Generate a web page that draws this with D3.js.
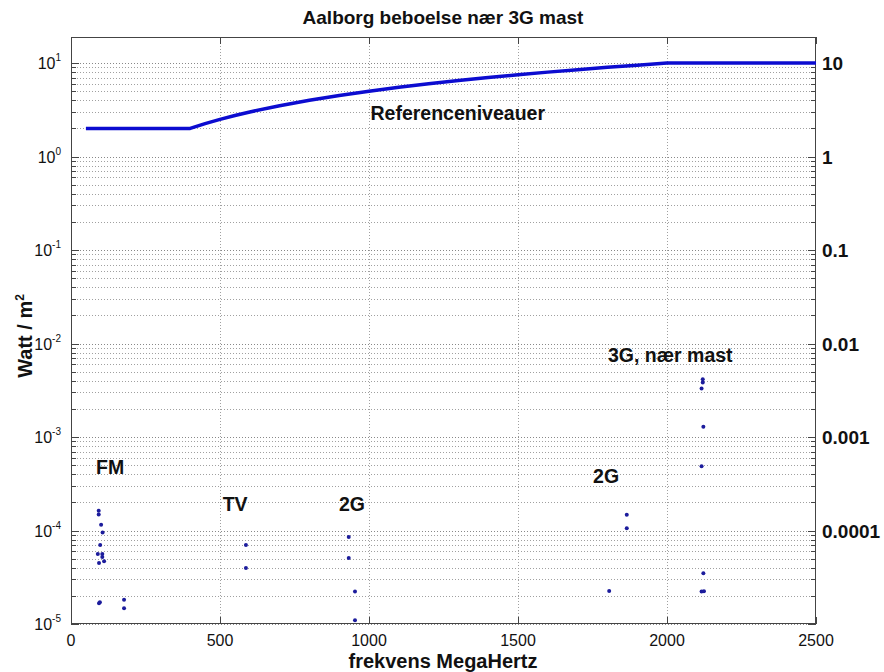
<!DOCTYPE html>
<html><head><meta charset="utf-8">
<script src="https://cdn.jsdelivr.net/npm/d3@7"></script>
<style>body{margin:0;background:#fff}svg{display:block}text{font-family:"Liberation Sans",Arial,sans-serif}</style>
</head><body><svg id="c" width="884" height="672"></svg>
<script>
// Reference level curve (MHz, W/m2)
const refFreq = [50, 400, 450, 500, 550, 600, 700, 800, 900, 1000, 1100, 1200, 1300, 1400, 1500, 1600, 1700, 1800, 1900, 2000, 2500];
const refLevel = [2, 2, 2.25, 2.5, 2.75, 3, 3.5, 4, 4.5, 5, 5.5, 6, 6.5, 7, 7.5, 8, 8.5, 9, 9.5, 10, 10];
// Measured points (MHz, W/m2)
const ptFreq = [93, 93, 101, 106, 98, 90, 105, 105, 111, 94, 97, 94, 178, 178,
  587, 587, 932, 932, 953, 953,
  2120, 2120, 2116, 2122, 2116, 1865, 1865, 2122, 1806, 2116, 2124];
const ptVal = [1.63e-4, 1.48e-4, 1.15e-4, 9.5e-5, 7.0e-5, 5.6e-5, 5.6e-5, 5.2e-5, 4.7e-5, 4.5e-5, 1.71e-5, 1.67e-5, 1.82e-5, 1.47e-5,
  7.0e-5, 3.97e-5, 8.5e-5, 5.07e-5, 2.22e-5, 1.10e-5,
  4.15e-3, 3.83e-3, 3.3e-3, 1.29e-3, 4.87e-4, 1.47e-4, 1.06e-4, 3.5e-5, 2.26e-5, 2.22e-5, 2.24e-5];
const xTicks = [0, 500, 1000, 1500, 2000, 2500];
const yExps = [-5, -4, -3, -2, -1, 0, 1];
const rightLabels = ["0.0001", "0.001", "0.01", "0.1", "1", "10"];
const rightVals = [1e-4, 1e-3, 1e-2, 1e-1, 1, 10];
const annotations = [
  {t: "FM", f: 84, v: 4.0e-4},
  {t: "TV", f: 509, v: 1.63e-4},
  {t: "2G", f: 899, v: 1.63e-4},
  {t: "2G", f: 1752, v: 3.22e-4},
  {t: "3G, nær mast", f: 1802, v: 6.35e-3},
  {t: "Referenceniveauer", f: 1005, v: 2.45}
];

const svg = d3.select("#c");
const L = 71, R = 816, T = 37, B = 624;
const x = d3.scaleLinear().domain([0, 2500]).range([L, R]);
const y = d3.scaleLog().domain([1e-5, 19]).range([B, T]);

const minors = [];
for (let e = -5; e <= 1; e++) for (let m = 1; m <= 9; m++) { const v = m * Math.pow(10, e); if (v <= 19) minors.push(v); }
const isMajor = d => Math.abs(Math.log10(d) - Math.round(Math.log10(d))) < 1e-9;

const g = svg.append("g");
g.selectAll(".hg").data(minors).enter().append("line")
  .attr("x1", L).attr("x2", R).attr("y1", d => Math.round(y(d)) + 0.5).attr("y2", d => Math.round(y(d)) + 0.5)
  .attr("stroke", d => isMajor(d) ? "#888" : "#a0a0a0").attr("stroke-width", 1).attr("stroke-dasharray", "1,2");
g.selectAll(".vg").data(xTicks.slice(1, -1)).enter().append("line")
  .attr("y1", T).attr("y2", B).attr("x1", d => Math.round(x(d)) + 0.5).attr("x2", d => Math.round(x(d)) + 0.5)
  .attr("stroke", "#a0a0a0").attr("stroke-width", 1).attr("stroke-dasharray", "1,2");

g.append("rect").attr("x", L + 0.5).attr("y", T + 0.5).attr("width", R - L - 1).attr("height", B - T - 1)
  .attr("fill", "none").attr("stroke", "#444").attr("stroke-width", 1);

g.selectAll(".lt").data(minors).enter().append("line")
  .attr("x1", L).attr("x2", d => L + (isMajor(d) ? 8 : 5))
  .attr("y1", d => Math.round(y(d)) + 0.5).attr("y2", d => Math.round(y(d)) + 0.5).attr("stroke", "#444");
g.selectAll(".rt").data(minors).enter().append("line")
  .attr("x1", R).attr("x2", d => R - (isMajor(d) ? 8 : 5))
  .attr("y1", d => Math.round(y(d)) + 0.5).attr("y2", d => Math.round(y(d)) + 0.5).attr("stroke", "#444");
g.selectAll(".bt").data(xTicks).enter().append("line")
  .attr("x1", d => Math.round(x(d)) + 0.5).attr("x2", d => Math.round(x(d)) + 0.5)
  .attr("y1", B).attr("y2", B - 7).attr("stroke", "#444");
g.selectAll(".tt").data(xTicks).enter().append("line")
  .attr("x1", d => Math.round(x(d)) + 0.5).attr("x2", d => Math.round(x(d)) + 0.5)
  .attr("y1", T).attr("y2", T + 7).attr("stroke", "#444");

g.selectAll(".xl").data(xTicks).enter().append("text")
  .attr("x", d => x(d)).attr("y", B + 22).attr("text-anchor", "middle")
  .attr("font-size", 16).attr("fill", "#111").text(d => d);

const yl = g.selectAll(".yl").data(yExps).enter().append("text")
  .attr("x", L - 10).attr("y", d => y(Math.pow(10, d)) + 6).attr("text-anchor", "end")
  .attr("font-size", 16).attr("fill", "#111");
yl.append("tspan").text("10");
yl.append("tspan").attr("dy", -8).attr("font-size", 10).text(d => d);

g.selectAll(".rl").data(rightVals).enter().append("text")
  .attr("x", R + 6).attr("y", d => y(d) + 7).attr("font-size", 19).attr("font-weight", "bold")
  .attr("fill", "#111").text((d, i) => rightLabels[i]);

const line = d3.line().x(d => x(d)).y((d, i) => y(refLevel[i]));
g.append("path").datum(refFreq).attr("d", line).attr("fill", "none")
  .attr("stroke", "#0c0cd0").attr("stroke-width", 3.5).attr("stroke-linejoin", "round");

g.selectAll(".pt").data(ptFreq).enter().append("circle")
  .attr("cx", d => x(d)).attr("cy", (d, i) => y(ptVal[i])).attr("r", 2).attr("fill", "#1c1c9c");

g.selectAll(".an").data(annotations).enter().append("text")
  .attr("x", d => x(d.f)).attr("y", d => y(d.v)).attr("font-size", 19.5).attr("font-weight", "bold")
  .attr("fill", "#111").text(d => d.t);

svg.append("text").attr("x", 443).attr("y", 24).attr("text-anchor", "middle")
  .attr("font-size", 19).attr("font-weight", "bold").attr("fill", "#111").text("Aalborg beboelse nær 3G mast");
svg.append("text").attr("x", 443).attr("y", 668).attr("text-anchor", "middle")
  .attr("font-size", 20).attr("font-weight", "bold").attr("fill", "#111").text("frekvens MegaHertz");
const yt = svg.append("text").attr("transform", "translate(32,336) rotate(-90)").attr("text-anchor", "middle")
  .attr("font-size", 20).attr("font-weight", "bold").attr("fill", "#111");
yt.append("tspan").text("Watt / m");
yt.append("tspan").attr("dy", -8).attr("font-size", 12).text("2");
</script></body></html>
